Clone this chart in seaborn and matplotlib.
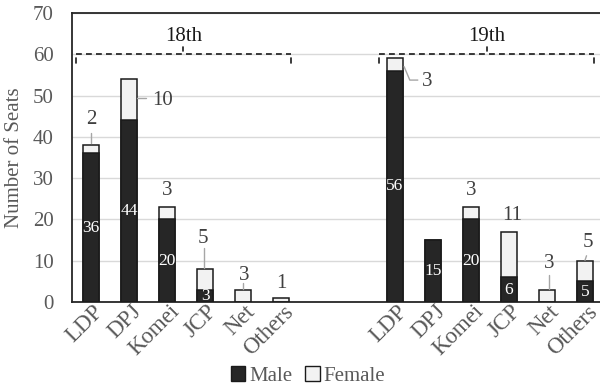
import matplotlib
matplotlib.use("Agg")
import matplotlib.pyplot as plt
from matplotlib.patches import Patch
from matplotlib.transforms import ScaledTranslation
import seaborn as sns
import pandas as pd

# ---- data ----
parties = ["LDP", "DPJ", "Komei", "JCP", "Net", "Others"]
sessions = ["18th", "19th"]
male_18 = [36, 44, 20, 3, 0, 0]
female_18 = [2, 10, 3, 5, 3, 1]
male_19 = [56, 15, 20, 6, 0, 5]
female_19 = [3, 0, 3, 11, 3, 5]
y_ticks = [0, 10, 20, 30, 40, 50, 60, 70]

male = {"18th": male_18, "19th": male_19}
female = {"18th": female_18, "19th": female_19}

rows = []
for s in sessions:
    for i, p in enumerate(parties):
        rows.append({"key": f"{s} {p}", "session": s, "party": p,
                     "male": male[s][i], "female": female[s][i],
                     "total": male[s][i] + female[s][i]})
df = pd.DataFrame(rows)
gap = ["gap1", "gap2"]
order = [f"18th {p}" for p in parties] + gap + [f"19th {p}" for p in parties]
slot = {k: i for i, k in enumerate(order)}

# ---- style ----
sns.set_style("white")
plt.rcParams["font.family"] = ["Liberation Serif", "DejaVu Serif"]

DARK = "#262626"
LIGHT = "#f2f2f2"
EDGE = "#1a1a1a"
GRAY_TXT = "#595959"
FS = 15

fig = plt.figure(figsize=(6, 3.86), dpi=100)
ax = fig.add_axes([72 / 600, 1 - 302 / 386, 532 / 600, 289 / 386])

sns.barplot(data=df, x="key", y="total", order=order, color=LIGHT,
            saturation=1, width=0.43, edgecolor=EDGE, linewidth=1.1,
            errorbar=None, ax=ax, zorder=3)
sns.barplot(data=df, x="key", y="male", order=order, color=DARK,
            saturation=1, width=0.43, edgecolor=EDGE, linewidth=1.1,
            errorbar=None, ax=ax, zorder=4)

ax.set_xlim(-0.5, 13.5)
ax.set_ylim(0, 70)
ax.set_yticks(y_ticks)
ax.set_yticklabels([str(v) for v in y_ticks], fontsize=FS, color=GRAY_TXT)
ax.yaxis.grid(True, color="#d9d9d9", linewidth=1.0, zorder=0)
ax.set_axisbelow(True)
ax.tick_params(axis="y", length=0, pad=13)
ax.tick_params(axis="x", length=0, pad=4)

xt_labels = parties + ["", ""] + parties
ax.set_xticks(range(len(order)))
ax.set_xticklabels(xt_labels, fontsize=16.5, color=GRAY_TXT, rotation=45,
                   ha="right", va="center", rotation_mode="anchor")
shift = ScaledTranslation(9 / 100, -1 / 100, fig.dpi_scale_trans)
for lab in ax.get_xticklabels():
    lab.set_transform(lab.get_transform() + shift)

ax.set_xlabel("")
ax.set_ylabel("Number of Seats", fontsize=FS, color=GRAY_TXT)
ax.yaxis.set_label_coords(-0.09, 0.5)

for side in ["left", "bottom", "top"]:
    ax.spines[side].set_visible(True)
    ax.spines[side].set_color("#262626")
    ax.spines[side].set_linewidth(1.3)
ax.spines["right"].set_visible(False)

# ---- male value labels (inside bars) ----
for _, r in df.iterrows():
    if r["male"] > 0:
        ax.text(slot[r["key"]], r["male"] / 2, str(r["male"]), color="white",
                fontsize=12.5, ha="center", va="center", zorder=6)

# ---- female value labels (layout: label x, label y, leader polyline) ----
female_layout = {
    "18th LDP": (0, 44.1, [(0, 38.4), (0, 41.0)]),
    "18th DPJ": (1.88, 48.9, [(1.21, 49.4), (1.45, 49.4)]),
    "18th Komei": (2.0, 27.0, None),
    "18th JCP": (2.94, 15.3, [(2.97, 8.2), (2.97, 13.0)]),
    "18th Net": (4.03, 6.5, [(4.0, 3.1), (4.0, 4.6)]),
    "18th Others": (5.01, 4.6, None),
    "19th LDP": (8.86, 53.4, [(8.24, 57.0), (8.39, 53.75), (8.6, 53.75)]),
    "19th Komei": (10.0, 27.0, None),
    "19th JCP": (11.08, 20.9, None),
    "19th Net": (12.07, 9.4, [(12.05, 3.1), (12.05, 6.6)]),
    "19th Others": (13.07, 14.5, [(13.0, 10.1), (13.04, 11.2)]),
}
for _, r in df.iterrows():
    if r["female"] > 0 and r["key"] in female_layout:
        tx, ty, leader = female_layout[r["key"]]
        ax.text(tx, ty, str(r["female"]), color="#404040", fontsize=FS,
                ha="center", va="center", zorder=6)
        if leader:
            xs, ys = zip(*leader)
            ax.plot(xs, ys, color="#a6a6a6", linewidth=1.0, zorder=5)

# ---- session brackets ----
brackets = {"18th": (-0.4, 5.26), "19th": (7.58, 13.24)}
for name, (x0, x1) in brackets.items():
    ax.plot([x0, x1], [60, 60], color="#1a1a1a", linewidth=1.2,
            linestyle=(0, (3.5, 2.5)), zorder=5, clip_on=False)
    for xe in (x0, x1):
        ax.plot([xe, xe], [58.0, 59.2], color="#1a1a1a", linewidth=1.2, zorder=5)
    xm = (x0 + x1) / 2
    ax.plot([xm, xm], [60.9, 61.8], color="#1a1a1a", linewidth=1.2, zorder=5)
    ax.text(xm, 64.4, name, fontsize=FS, color="#1a1a1a", ha="center",
            va="center", zorder=6)

# ---- legend ----
handles = [Patch(facecolor=DARK, edgecolor=EDGE, label="Male"),
           Patch(facecolor=LIGHT, edgecolor=EDGE, label="Female")]
fig.legend(handles=handles, loc="center", bbox_to_anchor=(308 / 600, 1 - 376 / 386),
           ncol=2, frameon=False, fontsize=FS, handlelength=0.7,
           handleheight=0.7, handletextpad=0.2, columnspacing=0.6,
           labelcolor=GRAY_TXT)

fig.savefig("out.png", dpi=100)
